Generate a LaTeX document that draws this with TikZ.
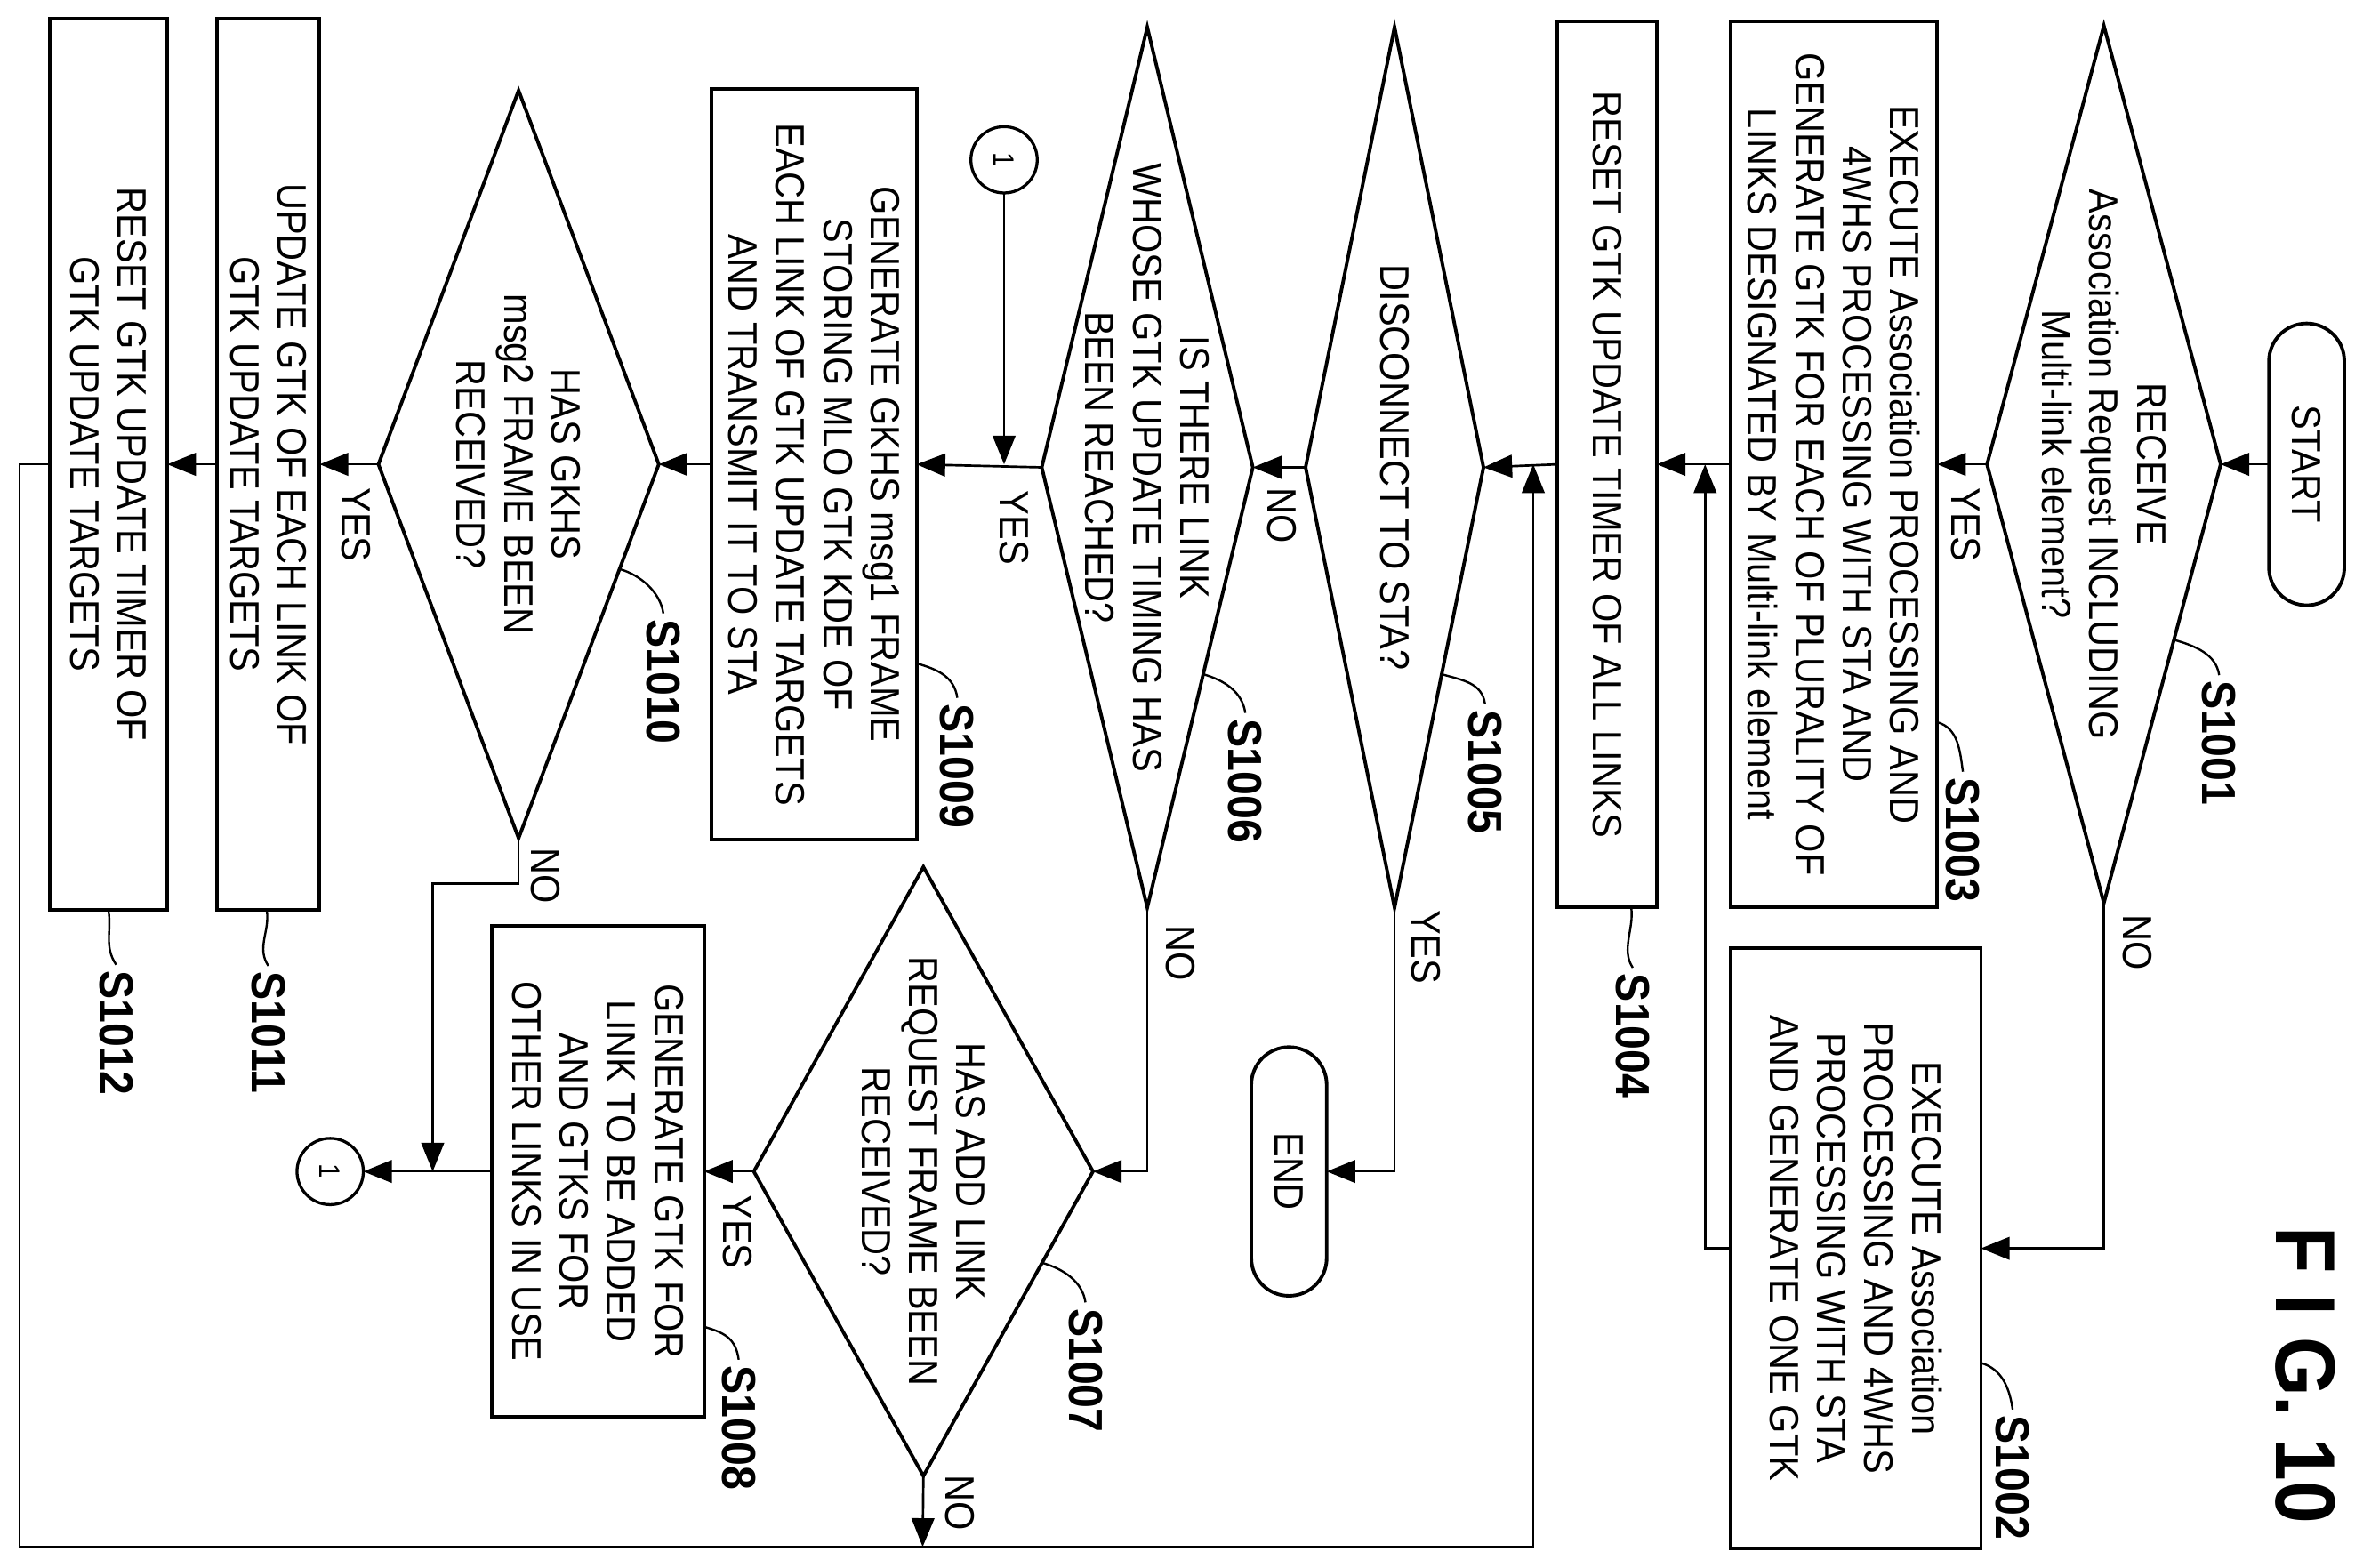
\documentclass[tikz,border=0pt]{standalone}
\usepackage{fontspec}
\setmainfont{Liberation Sans}[FakeStretch=0.9]
\usetikzlibrary{shapes.geometric,shapes.misc,arrows.meta,calc}
\begin{document}
\begin{tikzpicture}[x=0.02cm,y=-0.02cm,
  every node/.style={rotate=-90,outer sep=0pt,inner sep=0pt},
  tx/.style={align=center,font=\fontsize{15.5}{17.9}\selectfont},
  box/.style={draw,rectangle,line width=1.3pt,tx},
  dia/.style={draw,diamond,line width=1.3pt},
  term/.style={draw,rounded rectangle,line width=1.3pt,tx},
  conn/.style={draw,circle,line width=1.1pt,minimum size=0.88cm,font=\fontsize{11}{12}\selectfont},
  lab/.style={font=\bfseries\fontsize{18}{20}\selectfont},
  yn/.style={tx},
  ar/.style={line width=0.9pt,-{Triangle[length=0.38cm,width=0.3cm]}},
  ln/.style={line width=0.9pt},
  lead/.style={line width=0.8pt}]
\useasboundingbox (0,0) rectangle (1567.4,1040);

% shapes
\node[term,minimum width=3.74cm,minimum height=1.0cm] (start) at (1530,308) {START};
\node[dia,minimum width=11.64cm,minimum height=3.1cm] (d1) at (1395.5,308) {};
\node[tx] (t1) at (d1) {RECEIVE\\Association Request INCLUDING\\Multi-link element?};
\node[box,minimum width=11.76cm,minimum height=2.74cm] (b3) at (1216.5,308) {EXECUTE Association PROCESSING AND\\4WHS PROCESSING WITH STA AND\\GENERATE GTK FOR EACH OF PLURALITY OF\\LINKS DESIGNATED BY Multi-link element};
\node[box,minimum width=7.96cm,minimum height=3.32cm] (b2) at (1231,828) {EXECUTE Association\\PROCESSING AND 4WHS\\PROCESSING WITH STA\\AND GENERATE ONE GTK};
\node[box,minimum width=11.76cm,minimum height=1.32cm] (b4) at (1066,308) {RESET GTK UPDATE TIMER OF ALL LINKS};
\node[dia,minimum width=11.68cm,minimum height=2.36cm] (d5) at (925,310) {};
\node[tx] (t5) at (d5) {DISCONNECT TO STA?};
\node[term,minimum width=3.3cm,minimum height=1.0cm] (end) at (855,777) {END};
\node[dia,minimum width=11.68cm,minimum height=2.8cm] (d6) at (761,310) {};
\node[tx] (t6) at (d6) {IS THERE LINK\\WHOSE GTK UPDATE TIMING HAS\\BEEN REACHED?};
\node[conn] (c1) at (666,106) {1};
\node[box,minimum width=9.96cm,minimum height=2.72cm] (b9) at (540,308) {GENERATE GKHS msg1 FRAME\\STORING MLO GTK KDE OF\\EACH LINK OF GTK UPDATE TARGETS\\AND TRANSMIT IT TO STA};
\node[dia,minimum width=9.92cm,minimum height=3.72cm] (d10) at (344,308) {};
\node[tx] (t10) at (d10) {HAS GKHS\\msg2 FRAME BEEN\\RECEIVED?};
\node[dia,minimum width=8.08cm,minimum height=4.5cm] (d7) at (612.5,777) {};
\node[tx] (t7) at (d7) {HAS ADD LINK\\REQUEST FRAME BEEN\\RECEIVED?};
\node[box,minimum width=6.52cm,minimum height=2.82cm] (b8) at (396.5,777) {GENERATE GTK FOR\\LINK TO BE ADDED\\AND GTKS FOR\\OTHER LINKS IN USE};
\node[conn] (c2) at (219,777) {1};
\node[box,minimum width=11.82cm,minimum height=1.36cm] (b11) at (178,308) {UPDATE GTK OF EACH LINK OF\\GTK UPDATE TARGETS};
\node[box,minimum width=11.82cm,minimum height=1.56cm] (b12) at (72,308) {RESET GTK UPDATE TIMER OF\\GTK UPDATE TARGETS};

% junction coordinates
\coordinate (m1) at (1131,308);
\coordinate (m2) at (1017,308);
\coordinate (j7) at (612,1026);
\coordinate (j10) at (287,777);

% connectors
\draw[ar] (start.south) -- (d1.north);
\draw[ar] (d1.south) -- (b3.north);
\draw[ar] (d1.east) -- (1395.5,828) -- (b2.north);
\draw[ar] (b3.south) -- (b4.north);
\draw[ar] (b2.south) -- (1131,828) -- (m1);
\draw[ar] (b4.south) -- (d5.north);
\draw[ar] (d5.south) -- (d6.north);
\draw[ar] (d5.east) -- (925,777) -- (end.north);
\draw[ar] (d6.south) -- (b9.north);
\draw[ar] (c1.east) -- (666,308);
\draw[ar] (d6.east) -- (761,777) -- (d7.north);
\draw[ar] (b9.south) -- (d10.north);
\draw[ar] (d10.south) -- (b11.north);
\draw[ar] (b11.south) -- (b12.north);
\draw[ar] (d10.east) -- (344,586) -- (287,586) -- (j10);
\draw[ar] (d7.south) -- (b8.north);
\draw[ar] (b8.south) -- (c2.north);
\draw[ar] (d7.east) -- (j7);
\draw[ar] (b12.south) -- (13,308) -- (13,1026) -- (1017,1026) -- (m2);

% yes/no
\node[yn] at (1304,348) {YES};
\node[yn] at (1418,625) {NO};
\node[yn] at (850,342) {NO};
\node[yn] at (946,628) {YES};
\node[yn] at (673,350) {YES};
\node[yn] at (783,632) {NO};
\node[yn] at (489,817) {YES};
\node[yn] at (637,997) {NO};
\node[yn] at (236,348) {YES};
\node[yn] at (362,581) {NO};

% step labels
\node[lab] (l1) at (1472,493) {S1001};
\node[lab] (l3) at (1302,557) {S1003};
\node[lab] (l2) at (1335,980) {S1002};
\node[lab] (l4) at (1083,687) {S1004};
\node[lab] (l5) at (985,512) {S1005};
\node[lab] (l6) at (826,518) {S1006};
\node[lab] (l9) at (635,508) {S1009};
\node[lab] (l10) at (440,452) {S1010};
\node[lab] (l7) at (720,909) {S1007};
\node[lab] (l8) at (490,947) {S1008};
\node[lab] (l11) at (178,685) {S1011};
\node[lab] (l12) at (77,685) {S1012};

% leaders
\draw[lead] ($(d1.north)!0.4!(d1.east)$) .. controls +(14,4) and +(-2,-14) .. ($(l1.west)+(0,-4)$);
\draw[lead] ($(d5.north)!0.47!(d5.east)$) .. controls +(14,4) and +(-2,-14) .. ($(l5.west)+(0,-4)$);
\draw[lead] ($(d6.north)!0.47!(d6.east)$) .. controls +(14,4) and +(-2,-14) .. ($(l6.west)+(0,-4)$);
\draw[lead] ($(d10.north)!0.28!(d10.east)$) .. controls +(14,4) and +(-2,-14) .. ($(l10.west)+(0,-4)$);
\draw[lead] ($(d7.north)!0.3!(d7.east)$) .. controls +(14,4) and +(-2,-14) .. ($(l7.west)+(0,-4)$);
\draw[lead] (b3.north |- 0,479) .. controls +(14,4) and +(-2,-14) .. ($(l3.west)+(0,-4)$);
\draw[lead] (b2.north |- 0,904) .. controls +(14,4) and +(-2,-14) .. ($(l2.west)+(0,-4)$);
\draw[lead] (b9.north |- 0,440) .. controls +(14,4) and +(-2,-14) .. ($(l9.west)+(0,-4)$);
\draw[lead] (b8.north |- 0,880) .. controls +(14,4) and +(-2,-14) .. ($(l8.west)+(0,-4)$);
\draw[lead] (1082,602) .. controls +(2,14) and +(-8,-12) .. ($(l4.west)+(0,-4)$);
\draw[lead] (177,604) .. controls +(2,14) and +(-8,-12) .. ($(l11.west)+(0,-4)$);
\draw[lead] (72,604) .. controls +(2,14) and +(-8,-12) .. ($(l12.west)+(0,-4)$);

\node[font=\bfseries\fontsize{32}{34}\selectfont] (fig) at (1529,912) {F I G. 10};
\end{tikzpicture}
\end{document}
